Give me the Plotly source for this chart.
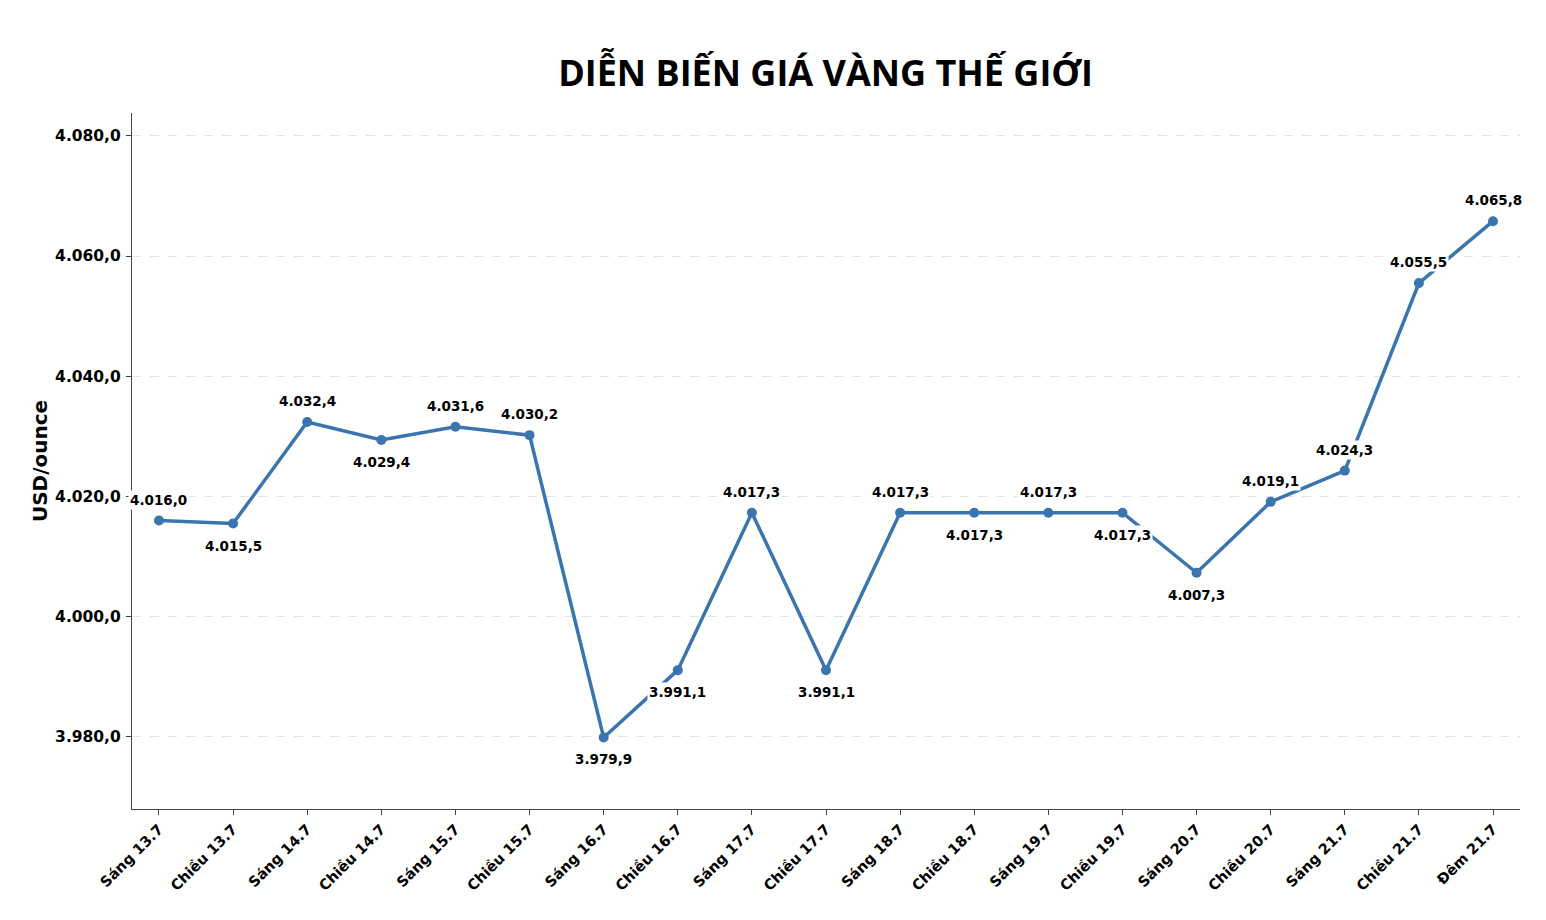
import plotly.graph_objects as go

categories = ["Sáng 13.7", "Chiều 13.7", "Sáng 14.7", "Chiều 14.7", "Sáng 15.7", "Chiều 15.7",
              "Sáng 16.7", "Chiều 16.7", "Sáng 17.7", "Chiều 17.7", "Sáng 18.7", "Chiều 18.7",
              "Sáng 19.7", "Chiều 19.7", "Sáng 20.7", "Chiều 20.7", "Sáng 21.7", "Chiều 21.7", "Đêm 21.7"]
prices = [4016.0, 4015.5, 4032.4, 4029.4, 4031.6, 4030.2, 3979.9, 3991.1, 4017.3, 3991.1,
          4017.3, 4017.3, 4017.3, 4017.3, 4007.3, 4019.1, 4024.3, 4055.5, 4065.8]
label_above = [True, False, True, False, True, True, False, False, True, False,
               True, False, True, False, False, True, True, True, True]
y_ticks = [3980, 4000, 4020, 4040, 4060, 4080]


def vn(v):
    s = f"{v:,.1f}"
    return s.replace(",", "X").replace(".", ",").replace("X", ".")


x_idx = list(range(len(categories)))
color = "#3b75af"

fig = go.Figure()
fig.add_trace(go.Scatter(
    x=x_idx, y=prices, mode="lines+markers",
    line=dict(color=color, width=3.5),
    marker=dict(color=color, size=10),
    hoverinfo="skip", showlegend=False,
))

for i, (v, up) in enumerate(zip(prices, label_above)):
    fig.add_annotation(
        x=i, y=v, text=f"<b>{vn(v)}</b>", showarrow=False,
        yshift=21 if up else -22,
        bgcolor="white", borderpad=1,
        font=dict(family="DejaVu Sans", size=13.5, color="black"),
    )

fig.update_layout(
    width=1546, height=920,
    paper_bgcolor="white", plot_bgcolor="white",
    margin=dict(l=132, r=26, t=113, b=111),
    title=dict(text="<b>DIỄN BIẾN GIÁ VÀNG THẾ GIỚI</b>", x=0.534, xanchor="center",
               y=0.92, yanchor="middle",
               font=dict(family="Open Sans", size=36, color="black")),
)
fig.update_xaxes(
    range=[-0.364, 18.364], tickmode="array", tickvals=x_idx,
    ticktext=[f"<b>{c}</b>" for c in categories],
    tickangle=-45, tickfont=dict(family="DejaVu Sans", size=14.5, color="black"),
    showgrid=False, zeroline=False,
    showline=True, linecolor="#444", linewidth=1.2,
    ticks="outside", ticklen=5, tickcolor="#444",
)
fig.update_yaxes(
    range=[3968.0, 4083.8], tickmode="array", tickvals=y_ticks,
    ticktext=[f"<b>{vn(t)}</b>" for t in y_ticks],
    tickfont=dict(family="DejaVu Sans", size=15.5, color="black"),
    ticklabelstandoff=2,
    showgrid=True, gridcolor="#e3e3e3", griddash="dash", gridwidth=1,
    zeroline=False, showline=True, linecolor="#444", linewidth=1.2,
    ticks="outside", ticklen=5, tickcolor="#444",
    title=dict(text="<b>USD/ounce</b>", font=dict(family="DejaVu Sans", size=20, color="black"),
               standoff=2),
)

fig.write_html("out.html")
